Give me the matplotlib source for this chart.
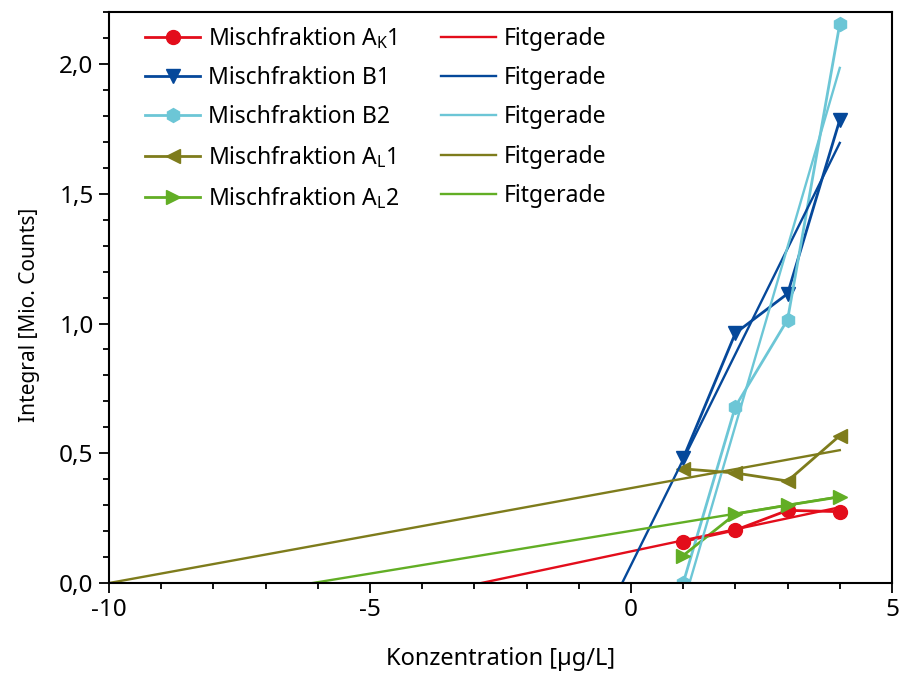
import numpy as np
import matplotlib
matplotlib.use('Agg')
import matplotlib.pyplot as plt
from matplotlib.ticker import MultipleLocator, FuncFormatter

plt.rcParams['font.family'] = ['Noto Sans', 'DejaVu Sans']
plt.rcParams['axes.unicode_minus'] = False
plt.rcParams['mathtext.default'] = 'regular'

# Konzentration [ug/L]
konz = [1, 2, 3, 4]

# Integral [Mio. Counts]
ak1 = [0.160, 0.204, 0.280, 0.275]
b1 = [0.481, 0.963, 1.115, 1.785]
b2 = [0.000, 0.680, 1.015, 2.155]
al1 = [0.440, 0.424, 0.393, 0.568]
al2 = [0.106, 0.266, 0.300, 0.332]

# Fitgerade: x-Achsenabschnitt und Wert bei x = 4
fit_x0 = {'ak1': -2.87, 'b1': -0.17, 'b2': 1.12, 'al1': -10.0, 'al2': -6.1}
fit_y4 = {'ak1': 0.292, 'b1': 1.696, 'b2': 1.985, 'al1': 0.512, 'al2': 0.333}

namen = {'ak1': r'Mischfraktion A$_K$1', 'b1': 'Mischfraktion B1',
         'b2': 'Mischfraktion B2', 'al1': r'Mischfraktion A$_L$1',
         'al2': r'Mischfraktion A$_L$2'}
werte = {'ak1': ak1, 'b1': b1, 'b2': b2, 'al1': al1, 'al2': al2}
farben = {'ak1': '#E30D1B', 'b1': '#05489A', 'b2': '#6CC6D6',
          'al1': '#7E7C1C', 'al2': '#62AE25'}
marker = {'ak1': 'o', 'b1': 'v', 'b2': 'h', 'al1': '<', 'al2': '>'}
reihen = ['ak1', 'b1', 'b2', 'al1', 'al2']

fig = plt.figure(figsize=(9.01, 6.8), dpi=100)
ax = fig.add_axes([0.121, 0.1426, 0.869, 0.8396])

h_daten = []
h_fit = []
for r in reihen:
    l, = ax.plot(konz, werte[r], color=farben[r], marker=marker[r],
                 markersize=10, lw=2.0, label=namen[r])
    h_daten.append(l)
for r in reihen:
    f, = ax.plot([fit_x0[r], 4], [0, fit_y4[r]], color=farben[r], lw=1.7,
                 label='Fitgerade')
    h_fit.append(f)

ax.set_xlim(-10, 5)
ax.set_ylim(0, 2.2)
ax.xaxis.set_major_locator(MultipleLocator(5))
ax.xaxis.set_minor_locator(MultipleLocator(1))
ax.yaxis.set_major_locator(MultipleLocator(0.5))
ax.yaxis.set_minor_locator(MultipleLocator(0.1))
ax.yaxis.set_major_formatter(FuncFormatter(lambda v, p: f'{v:.1f}'.replace('.', ',')))
ax.xaxis.set_major_formatter(FuncFormatter(lambda v, p: f'{v:.0f}'))
ax.tick_params(which='both', direction='out', top=False, right=False,
               width=1.3, labelsize=17.5, pad=4)
ax.tick_params(which='major', length=7)
ax.tick_params(which='minor', length=4)
for s in ax.spines.values():
    s.set_linewidth(1.5)

ax.set_xlabel('Konzentration [µg/L]', fontsize=17)
ax.xaxis.set_label_coords(0.5, -0.112)
ax.set_ylabel('Integral [Mio. Counts]', fontsize=15)
ax.yaxis.set_label_coords(-0.088, 0.469)

ax.legend(h_daten + h_fit, [h.get_label() for h in h_daten + h_fit],
          ncol=2, frameon=False, fontsize=16.5, loc='upper left',
          bbox_to_anchor=(0.02, 1.013), handlelength=2.4, handletextpad=0.35,
          labelspacing=0.66, columnspacing=1.8)

fig.savefig('out.png', dpi=100)
